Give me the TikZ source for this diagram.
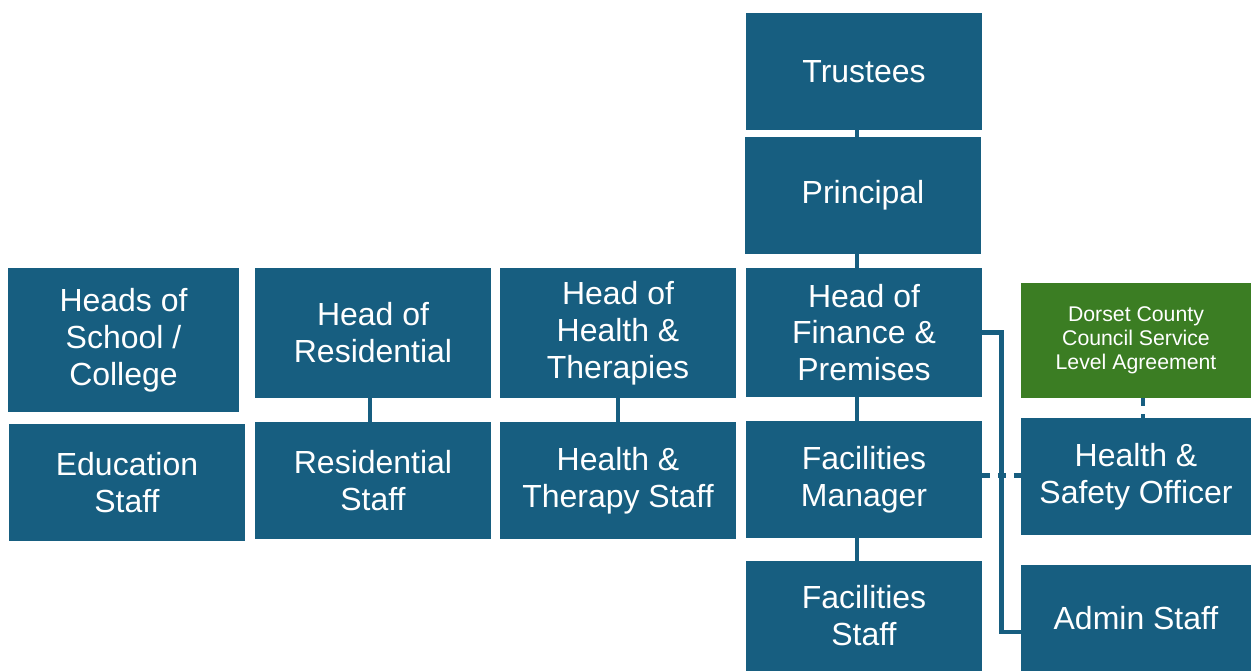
\documentclass[tikz,border=0pt]{standalone}
\usepackage{fontspec}
\setmainfont{Liberation Sans}
\usepackage{tikz}

\definecolor{orgblue}{RGB}{23,94,128}
\definecolor{orggreen}{RGB}{59,125,35}

\tikzset{
	box/.style={fill=orgblue,text=white,align=center,minimum width=4.72cm,inner sep=0pt,
		font=\fontsize{18.2}{21}\selectfont},
	slabox/.style={box,fill=orggreen,minimum width=4.6cm,font=\fontsize{12.1}{13.6}\selectfont},
	conn/.style={orgblue,line width=2.8pt},
	dotconn/.style={conn,dash pattern=on 4.5pt off 4.5pt}
}

\begin{document}
\begin{tikzpicture}[x=0.02cm,y=-0.02cm]
			\useasboundingbox (0,0) rectangle (1251,671);
			
			% middle column
			\node[box,minimum height=2.34cm] (trustees) at (864,71.5) {Trustees};
			\node[box,minimum height=2.34cm] (principal) at (863,195.5) {Principal};
			\node[box,minimum height=2.58cm] (finance) at (864,332.5) {Head of\\Finance \&\\Premises};
			\node[box,minimum height=2.34cm] (facman) at (864,479.5) {Facilities\\Manager};
			\node[box,minimum height=2.2cm] (facstaff) at (864,616) {Facilities\\Staff};
			
			% heads and their staff
			\node[box,minimum width=4.62cm,minimum height=2.88cm] (heads) at (123.5,340) {Heads of\\School /\\College};
			\node[box,minimum height=2.34cm] (edu) at (127,482.5) {Education\\Staff};
			\node[box,minimum height=2.6cm] (headres) at (373,333) {Head of\\Residential};
			\node[box,minimum height=2.34cm] (resstaff) at (373,480.5) {Residential\\Staff};
			\node[box,minimum height=2.6cm] (headhealth) at (618,333) {Head of\\Health \&\\Therapies};
			\node[box,minimum height=2.34cm] (healthstaff) at (618,480.5) {Health \&\\Therapy Staff};
			
			% right column
			\node[slabox,minimum height=2.3cm] (dorset) at (1136,340.5) {Dorset County\\Council Service\\Level Agreement};
			\node[box,minimum width=4.6cm,minimum height=2.34cm] (hso) at (1136,476.5) {Health \&\\Safety Officer};
			\node[box,minimum width=4.6cm,minimum height=2.12cm] (admin) at (1136,618) {Admin Staff};
			
			% connectors
			\draw[conn] ([xshift=-0.14cm]trustees.south) -- ([xshift=-0.14cm]trustees.south |- principal.north);
			\draw[conn] ([xshift=-0.14cm]finance.north |- principal.south) -- ([xshift=-0.14cm]finance.north);
			\draw[conn] ([xshift=-0.14cm]finance.south) -- ([xshift=-0.14cm]facman.north);
			\draw[conn] ([xshift=-0.14cm]facman.south) -- ([xshift=-0.14cm]facstaff.north);
			\draw[conn] ([xshift=-0.06cm]headres.south) -- ([xshift=-0.06cm]resstaff.north);
			\draw[conn] (headhealth.south) -- (healthstaff.north);
			\draw[conn] (finance.east) -- ++(19,0) |- ([yshift=-0.28cm]admin.west);
			\draw[dotconn] ([yshift=0.08cm]facman.east) -- ([yshift=0.08cm]facman.east -| hso.west);
			\draw[dotconn] ([xshift=0.14cm]dorset.south) -- ([xshift=0.14cm]hso.north);
\end{tikzpicture}
\end{document}
